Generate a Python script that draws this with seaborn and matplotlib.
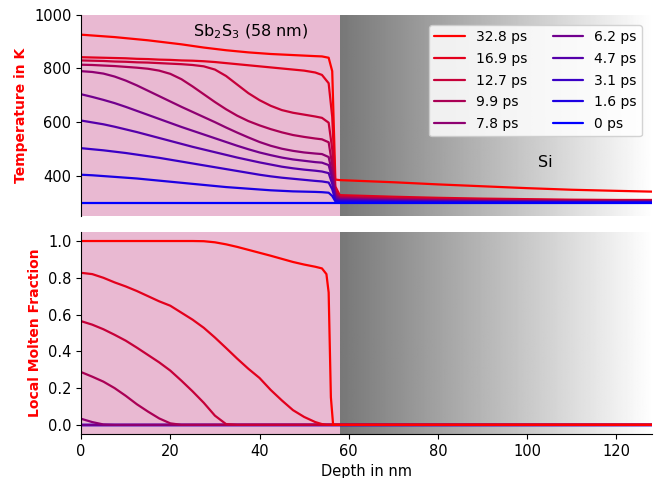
import numpy as np
import pandas as pd
import matplotlib
matplotlib.use("Agg")
import matplotlib.pyplot as plt
import seaborn as sns

# ---------- data ----------
TIMES = ["32.8 ps", "16.9 ps", "12.7 ps", "9.9 ps", "7.8 ps",
         "6.2 ps", "4.7 ps", "3.1 ps", "1.6 ps", "0 ps"]

# depth grid for temperature profiles (nm)
T_DEPTH = [0, 2.5, 5, 7.5, 10, 12.5, 15, 17.5, 20, 22.5, 25, 27.5, 30, 32.5, 35, 37.5,
           40, 42.5, 45, 47.5, 50, 52.5, 54, 55.5, 56.3, 57, 58,
           70, 80, 90, 100, 110, 120, 128]

T_328 = [926, 923, 920, 917, 913, 909, 905, 900, 895, 890, 884, 878, 873, 868, 864, 860,
         857, 854, 852, 850, 848, 846, 845, 840, 790, 386, 384,
         376, 368, 361, 354, 348, 344, 341]
T_169 = [842, 841, 840, 839, 838, 836, 835, 833, 832, 830, 829, 827, 824, 820, 816, 812,
         808, 804, 800, 796, 792, 785, 776, 745, 620, 360, 328,
         322, 318, 315, 313, 311, 310, 310]
T_127 = [830, 829, 828, 826, 825, 823, 822, 820, 818, 816, 813, 808, 796, 772, 740, 708,
         682, 661, 645, 635, 628, 621, 616, 598, 500, 345, 322,
         316, 313, 311, 310, 309, 308, 308]
T_99 = [814, 813, 811, 809, 806, 803, 799, 792, 780, 760, 733, 704, 675, 648, 624, 604,
        588, 574, 562, 552, 545, 539, 536, 525, 440, 335, 318,
        313, 310, 308, 307, 306, 306, 306]
T_78 = [790, 787, 781, 770, 755, 737, 717, 697, 677, 657, 638, 619, 600, 580, 561, 543,
        526, 512, 501, 493, 487, 483, 481, 470, 410, 328, 315,
        310, 308, 306, 305, 305, 304, 304]
T_62 = [704, 694, 683, 671, 657, 642, 627, 612, 597, 582, 568, 554, 540, 526, 512, 499,
        487, 477, 468, 461, 456, 451, 449, 440, 390, 322, 312,
        308, 306, 305, 304, 303, 303, 303]
T_47 = [606, 599, 592, 583, 573, 563, 552, 541, 530, 519, 508, 498, 488, 478, 468, 459,
        450, 442, 434, 428, 423, 419, 416, 410, 370, 315, 309,
        306, 304, 303, 303, 302, 302, 302]
T_31 = [503, 499, 495, 490, 485, 479, 473, 467, 460, 453, 446, 439, 432, 425, 418, 411,
        404, 398, 393, 389, 385, 381, 379, 375, 350, 310, 306,
        304, 303, 302, 302, 301, 301, 301]
T_16 = [404, 402, 399, 396, 393, 390, 386, 382, 378, 374, 370, 366, 362, 358, 355, 352,
        349, 346, 344, 342, 341, 340, 339, 337, 325, 305, 303,
        302, 301, 301, 300, 300, 300, 300]
T0_DEPTH = [0, 128]
T_0 = [300, 300]

# depth grid for molten fraction (nm)
M_DEPTH = [0, 2.5, 5, 7.5, 10, 12.5, 15, 17.5, 20, 22.5, 25, 27.5, 30, 32.5, 35, 37.5,
           40, 42.5, 45, 47.5, 50, 52.5, 54, 55, 55.5, 56, 56.5, 58, 128]

M_328 = [1.0, 1.0, 1.0, 1.0, 1.0, 1.0, 1.0, 1.0, 1.0, 1.0, 1.0, 0.999, 0.993, 0.982, 0.968, 0.952,
         0.936, 0.92, 0.903, 0.886, 0.872, 0.86, 0.851, 0.82, 0.72, 0.15, 0.0, 0.0, 0.0]
M_169 = [0.827, 0.82, 0.80, 0.775, 0.753, 0.728, 0.70, 0.672, 0.648, 0.61, 0.572, 0.528, 0.475, 0.418, 0.36, 0.305,
         0.255, 0.19, 0.133, 0.08, 0.043, 0.015, 0.004, 0.0, 0.0, 0.0, 0.0, 0.0, 0.0]
M_127 = [0.564, 0.545, 0.52, 0.49, 0.458, 0.42, 0.38, 0.34, 0.295, 0.24, 0.182, 0.12, 0.05, 0.004, 0.0, 0.0,
         0.0, 0.0, 0.0, 0.0, 0.0, 0.0, 0.0, 0.0, 0.0, 0.0, 0.0, 0.0, 0.0]
M_99 = [0.287, 0.262, 0.235, 0.2, 0.158, 0.112, 0.072, 0.035, 0.008, 0.0, 0.0, 0.0, 0.0, 0.0, 0.0, 0.0,
        0.0, 0.0, 0.0, 0.0, 0.0, 0.0, 0.0, 0.0, 0.0, 0.0, 0.0, 0.0, 0.0]
M78_DEPTH = [0, 2.5, 5, 7.5, 128]
M_78 = [0.033, 0.015, 0.002, 0.0, 0.0]
M0_DEPTH = [0, 128]
M_ZERO = [0.0, 0.0]

TEMPS = [(T_DEPTH, T_328), (T_DEPTH, T_169), (T_DEPTH, T_127), (T_DEPTH, T_99),
         (T_DEPTH, T_78), (T_DEPTH, T_62), (T_DEPTH, T_47), (T_DEPTH, T_31),
         (T_DEPTH, T_16), (T0_DEPTH, T_0)]
MOLTEN = [(M_DEPTH, M_328), (M_DEPTH, M_169), (M_DEPTH, M_127), (M_DEPTH, M_99),
          (M78_DEPTH, M_78), (M0_DEPTH, M_ZERO), (M0_DEPTH, M_ZERO), (M0_DEPTH, M_ZERO),
          (M0_DEPTH, M_ZERO), (M0_DEPTH, M_ZERO)]

FILM_END = 58
X_MAX = 128

# ---------- frames ----------
df_t = pd.concat([pd.DataFrame({"depth": d, "val": v, "time": t})
                  for t, (d, v) in zip(TIMES, TEMPS)], ignore_index=True)
df_m = pd.concat([pd.DataFrame({"depth": d, "val": v, "time": t})
                  for t, (d, v) in zip(TIMES, MOLTEN)], ignore_index=True)

# red -> blue
n = len(TIMES)
PALETTE = {t: (1 - i / (n - 1), 0.0, i / (n - 1)) for i, t in enumerate(TIMES)}

# ---------- style ----------
sns.set_style("ticks", rc={"text.color": "black", "axes.labelcolor": "black",
                           "xtick.color": "black", "ytick.color": "black",
                           "axes.edgecolor": "black"})
plt.rcParams["font.family"] = ["DejaVu Sans"]
plt.rcParams["font.size"] = 10.5

fig = plt.figure(figsize=(6.54, 4.78), dpi=100)
ax1 = fig.add_axes([0.124, 0.548, 0.873, 0.421])
ax2 = fig.add_axes([0.124, 0.092, 0.873, 0.423], sharex=ax1)

PINK = "#e9b9d2"
grad = np.linspace(0.47, 1.0, 256).reshape(1, -1)


def background(ax, ylo, yhi):
    ax.axvspan(0, FILM_END, color=PINK, lw=0, zorder=0)
    ax.imshow(grad, cmap="gray", vmin=0, vmax=1, aspect="auto",
              extent=[FILM_END, X_MAX, ylo, yhi], zorder=0)
    ax.set_xlim(0, X_MAX)
    ax.set_ylim(ylo, yhi)


# top: temperature
background(ax1, 250, 1000)
sns.lineplot(data=df_t, x="depth", y="val", hue="time", hue_order=TIMES,
             palette=PALETTE, estimator=None, sort=False, lw=1.6, ax=ax1)
ax1.set_ylabel("Temperature in K", color="red", fontweight="bold", fontsize=10)
ax1.set_xlabel("")
ax1.set_yticks([400, 600, 800, 1000])
ax1.tick_params(axis="x", bottom=False, labelbottom=False)
for s in ["top", "right", "bottom"]:
    ax1.spines[s].set_visible(False)
ax1.text(38, 935, r"Sb$_2$S$_3$ (58 nm)", ha="center", va="center", fontsize=11.5)
ax1.text(104, 448, "Si", ha="center", va="center", fontsize=11.5)
ax1.legend(ncol=2, loc="upper right", fontsize=10, framealpha=0.85,
           columnspacing=1.8, handlelength=2.2, labelspacing=0.55,
           bbox_to_anchor=(0.995, 0.985))

# bottom: molten fraction
background(ax2, -0.05, 1.05)
sns.lineplot(data=df_m, x="depth", y="val", hue="time", hue_order=TIMES[::-1],
             palette=PALETTE, estimator=None, sort=False, lw=1.6, ax=ax2,
             legend=False)
ax2.set_ylabel("Local Molten Fraction", color="red", fontweight="bold", fontsize=10)
ax2.set_xlabel("Depth in nm", fontsize=10.5)
ax2.set_yticks([0.0, 0.2, 0.4, 0.6, 0.8, 1.0])
ax2.set_xticks([0, 20, 40, 60, 80, 100, 120])
for s in ["top", "right"]:
    ax2.spines[s].set_visible(False)

fig.savefig("out.png", dpi=100)
